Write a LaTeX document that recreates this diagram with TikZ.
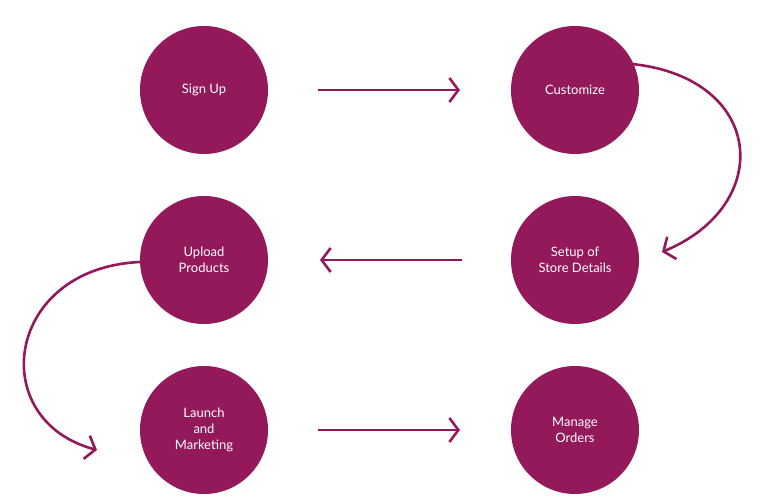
\documentclass[tikz,border=0pt]{standalone}
\usepackage{fontspec}
\setmainfont{Lato}
\usetikzlibrary{arrows.meta}
\definecolor{plum}{HTML}{93195A}
\begin{document}
\begin{tikzpicture}[x=1pt,y=-1pt,
  stage/.style={circle,fill=plum,minimum size=128pt,inner sep=0pt,text=white,align=center,font=\fontsize{13}{16}\selectfont},
  conn/.style={draw=plum,line width=2.6pt,-{Straight Barb[length=9pt,width=24pt,line width=2.6pt]}}]
\useasboundingbox (0,0) rectangle (761,502);
\node[stage] (a) at (204,90) {Sign Up};
\node[stage] (b) at (575,90) {Customize};
\node[stage] (c) at (204,260) {Upload\\Products};
\node[stage] (d) at (575,260) {Setup of\\Store Details};
\node[stage] (e) at (204,430) {Launch\\and\\Marketing};
\node[stage] (f) at (575,430) {Manage\\Orders};
\coordinate (a1) at (318,90); \coordinate (a2) at (460,90);
\coordinate (d1) at (462,260); \coordinate (d2) at (320,260);
\coordinate (e1) at (318,430); \coordinate (e2) at (460,430);
\coordinate (bs) at (632,64); \coordinate (be) at (662,252);
\coordinate (cs) at (140,262); \coordinate (ce) at (97,450);
\draw[conn] (a1) -- (a2);
\draw[conn] (d1) -- (d2);
\draw[conn] (e1) -- (e2);
\draw[conn] (bs) .. controls (765,78) and (775,205) .. (be);
\draw[conn] (cs) .. controls (5,268) and (-15,420) .. (ce);
\end{tikzpicture}
\end{document}
